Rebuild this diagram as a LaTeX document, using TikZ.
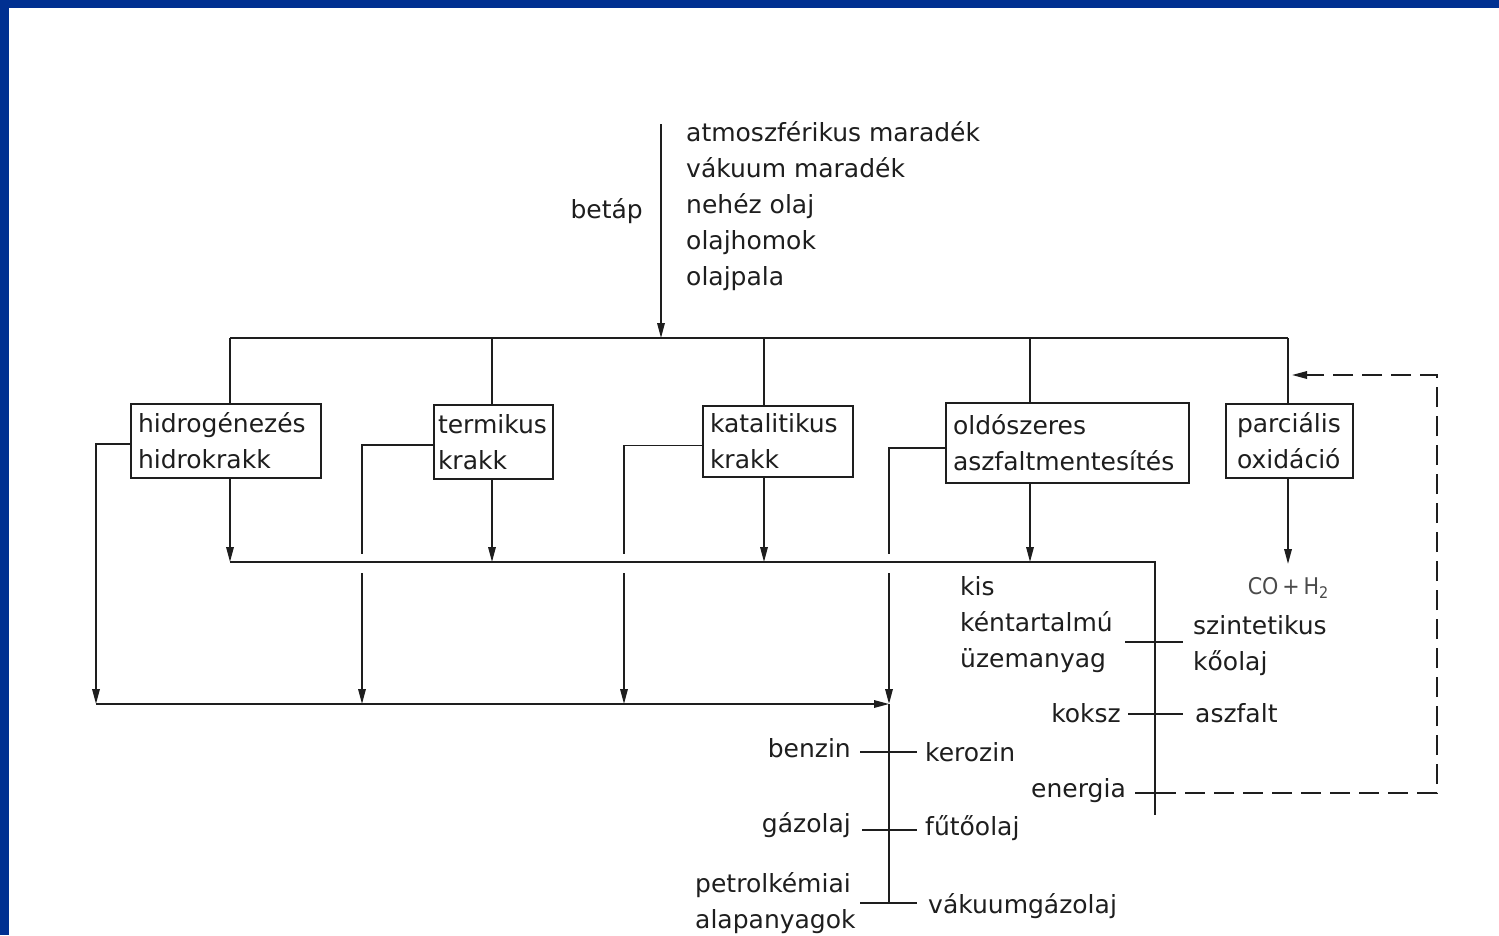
\documentclass[tikz,border=0pt]{standalone}
\usepackage{fontspec}
\setmainfont{DejaVu Sans}
\newfontfamily\condfont{DejaVu Sans Condensed}
\usetikzlibrary{arrows.meta}
\definecolor{frameblue}{RGB}{0,48,145}
\definecolor{ink}{RGB}{30,30,30}
\begin{document}
\begin{tikzpicture}[x=1pt,y=-1pt,
  every node/.style={font=\fontsize{25}{36}\selectfont, text=ink, inner sep=0pt},
  ln/.style={line width=1.7pt, draw=ink},
  arr/.style={ln, -{Triangle[length=15pt,width=7.5pt]}},
  box/.style={draw=ink, line width=1.7pt, align=left, inner xsep=7pt, inner ysep=0pt},
  dsh/.style={ln, dash pattern=on 20pt off 9pt, dash phase=20pt},
]
\fill[white] (0,0) rectangle (1499,935);
\fill[frameblue] (0,0) rectangle (1499,8);
\fill[frameblue] (0,0) rectangle (9,935);
\useasboundingbox (0,0) rectangle (1499,935);

% feed
\node[anchor=east] (betap) at (643,211) {betáp};
\node[anchor=west, align=left] (feedlist) at (686,206) {atmoszférikus maradék\\vákuum maradék\\nehéz olaj\\olajhomok\\olajpala};

% boxes
\node[box, text width=176pt, minimum height=74pt] (hy) at (226,441) {hidrogénezés\\hidrokrakk};
\node[box, inner xsep=4pt, text width=111pt, minimum height=74pt] (te) at (493.5,442) {termikus\\krakk};
\node[box, text width=136pt, minimum height=71pt] (ka) at (778,441.5) {katalitikus\\krakk};
\node[box, text width=229pt, minimum height=80pt] (ol) at (1067.5,443) {oldószeres\\aszfaltmentesítés};
\node[box, inner xsep=11pt, text width=105pt, minimum height=74pt] (po) at (1289.5,441) {parciális\\oxidáció};

% feed arrow and top bus
\coordinate (fs) at (661,124);
\coordinate (fj) at (661,338);
\draw[arr] (fs) -- (fj);
\coordinate (tb1) at (230,338);
\coordinate (tb2) at (492,338);
\coordinate (tb3) at (764,338);
\coordinate (tb4) at (1030,338);
\coordinate (tb5) at (1288,338);
\draw[ln] (tb1) -- (tb5);
\draw[ln] (tb1) -- (tb1 |- hy.north);
\draw[ln] (tb2) -- (tb2 |- te.north);
\draw[ln] (tb3) -- (tb3 |- ka.north);
\draw[ln] (tb4) -- (tb4 |- ol.north);
\draw[ln] (tb5) -- (tb5 |- po.north);

% middle bus
\coordinate (mb1) at (230,562);
\coordinate (mb2) at (492,562);
\coordinate (mb3) at (764,562);
\coordinate (mb4) at (1030,562);
\coordinate (mbe) at (1155,562);
\coordinate (mbend) at (1155,815);
\draw[ln] (mb1) -- (mbe) -- (mbend);
\draw[arr] (mb1 |- hy.south) -- (mb1);
\draw[arr] (mb2 |- te.south) -- (mb2);
\draw[arr] (mb3 |- ka.south) -- (mb3);
\draw[arr] (mb4 |- ol.south) -- (mb4);

% left outputs and bottom bus
\coordinate (l1) at (96,704);
\coordinate (l2) at (362,704);
\coordinate (l3) at (624,704);
\coordinate (l4) at (889,704);
\coordinate (g2a) at (362,554);
\coordinate (g2b) at (362,573);
\coordinate (g3a) at (624,554);
\coordinate (g3b) at (624,573);
\coordinate (g4a) at (889,554);
\coordinate (g4b) at (889,573);
\draw[arr] ([yshift=-3pt]hy.west) -| (l1);
\draw[ln] ([yshift=-3pt]te.west) -| (g2a);
\draw[arr] (g2b) -- (l2);
\draw[ln] ([yshift=-4pt]ka.west) -| (g3a);
\draw[arr] (g3b) -- (l3);
\draw[ln] ([yshift=-5pt]ol.west) -| (g4a);
\draw[arr] (g4b) -- (l4);
\draw[arr] (l1) -- (l4);
\coordinate (l4end) at (889,903);
\draw[ln] (l4) -- (l4end);

% products on the lower left
\node[anchor=east] (benzin) at (851,748) {benzin};
\node[anchor=west] (kerozin) at (925,752) {kerozin};
\node[anchor=east] (gazolaj) at (851,825) {gázolaj};
\node[anchor=west] (futoolaj) at (925,828) {fűtőolaj};
\node[anchor=west, align=left] (petrol) at (695,903) {petrolkémiai\\alapanyagok};
\node[anchor=west] (vakuum) at (928,906) {vákuumgázolaj};
\coordinate (bz1) at (860,752); \coordinate (bz2) at (917,752);
\coordinate (gz1) at (862,830); \coordinate (gz2) at (917,830);
\coordinate (pt1) at (860,903); \coordinate (pt2) at (917,903);
\draw[ln] (bz1) -- (bz2);
\draw[ln] (gz1) -- (gz2);
\draw[ln] (pt1) -- (pt2);

% products on the right
\node[anchor=west, align=left] (kis) at (960,625) {kis\\kéntartalmú\\üzemanyag};
\node[anchor=west, align=left] (szint) at (1193,646) {szintetikus\\kőolaj};
\node[anchor=east] (koksz) at (1121,713) {koksz};
\node[anchor=west] (aszfalt) at (1195,713) {aszfalt};
\node[anchor=east] (energia) at (1126,791) {energia};
\node[font=\condfont\fontsize{23}{26}\selectfont, text=ink!80] (co) at (1288,588) {CO\,+\,H\raisebox{-0.35ex}{\fontsize{16}{18}\selectfont 2}};
\coordinate (sz1) at (1125,642); \coordinate (sz2) at (1183,642);
\coordinate (ks1) at (1128,714); \coordinate (ks2) at (1183,714);
\draw[ln] (sz1) -- (sz2);
\draw[ln] (ks1) -- (ks2);
\coordinate (coin) at (1288,564);
\draw[arr] (coin |- po.south) -- (coin);

% energy recycle (dashed)
\coordinate (en1) at (1135,793);
\coordinate (en2) at (1176,793);
\coordinate (en3) at (1437,793);
\coordinate (en4) at (1437,375);
\coordinate (en5) at (1292,375);
\draw[ln] (en1) -- (en2);
\draw[dsh, -{Triangle[length=15pt,width=7.5pt]}] (en2) -- (en3) -- (en4) -- (en5);
\end{tikzpicture}
\end{document}
